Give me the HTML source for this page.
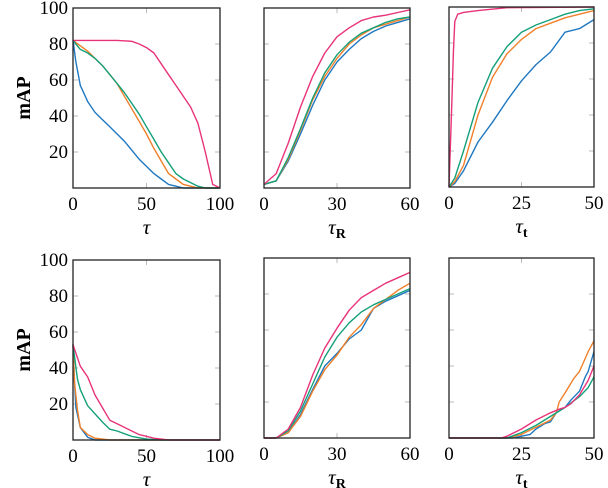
<!DOCTYPE html>
<html><head><meta charset="utf-8"><style>
html,body{margin:0;padding:0;background:#fff;width:608px;height:488px;overflow:hidden}
svg{font-family:"Liberation Serif","DejaVu Serif",serif}
</style></head><body>
<svg id="chart" width="608" height="488" viewBox="0 0 608 488"></svg>
<script>
const colors=['#1f78c1','#f0802a','#14a07a','#e8337a'];
const seriesNames=['blue','orange','green','pink'];
const p1x_blue=[0,2,5,10,15,20,25,30,35,40,45,50,55,60,65,70,75,100];
const p1y_blue=[82,70,57,48,42,38,34,30,26,21,16,12,8,5,2,1,0,0];
const p1x_orange=[0,5,10,15,20,25,30,35,40,45,50,55,60,65,70,75,80,85,100];
const p1y_orange=[82,79,76,72,68,63,58,51,44,37,30,22,15,8,5,2,1,0,0];
const p1x_green=[0,5,10,15,20,25,30,35,40,45,50,55,60,65,70,75,80,85,90,100];
const p1y_green=[82,77,75,72,68,63,58,53,47,41,34,27,20,14,8,5,3,1,0,0];
const p1x_pink=[0,10,20,30,40,45,50,55,60,70,80,85,90,95,100];
const p1y_pink=[82,82,82,82,81.5,80,78,75,69,57,45,36,20,2,0];
const p2x=[0,5,10,15,20,25,30,35,40,45,50,55,60];
const p2y_blue=[2,4,15,30,46,60,70,77,83,87,90,92,94];
const p2y_orange=[2,4,16,32,49,62,72,80,85,89,91,93,95];
const p2y_green=[2,4,17,33,50,64,74,81,86,89,92,94,95];
const p2y_pink=[2,8,25,45,62,75,84,89,93,95,96,97.5,99];
const p3x=[0,2,5,10,15,20,25,30,35,40,45,50];
const p3y_blue=[0,2,9,25,36,48,59,68,75,86,88,93];
const p3y_orange=[0,3,12,40,61,74,82,88,91,94,96,98];
const p3y_green=[0,5,20,47,66,78,86,90,93,96,98,99];
const p3x_pink=[0,1,1.5,2,3,5,10,20,50];
const p3y_pink=[0,48,75,92,96,97,98,99.6,100];
const p4x_blue=[0,1,2,5,10,15,100];const p4y_blue=[53,32,18,7,1.5,0,0];
const p4x_orange=[0,1,3,5,10,15,25,100];const p4y_orange=[53,32,17,7,3,1,0,0];
const p4x_green=[0,3,5,10,20,25,30,40,50,60,100];const p4y_green=[53,34,28,19,10,6,5,2,0.5,0,0];
const p4x_pink=[0,5,10,15,25,30,45,55,65,100];const p4y_pink=[53,41,35,25,11,9,3,1,0,0];
const p5x=[0,5,10,15,20,25,30,35,40,45,50,55,60];
const p5y_blue=[0,0,3,13,27,40,47,55,60,72,76,79,82];
const p5y_orange=[0,0,3,12,26,38,46,56,63,72,77,82,86];
const p5y_green=[0,0,4,15,30,45,56,64,70,74,77,80,83];
const p5y_pink=[0,0,5,17,35,50,61,71,78,82,86,89,92];
const p6x_blue=[0,22,25,28,30,33,35,37,40,42,45,47,48,50];const p6y_blue=[0,0,1,2,5,8,9,14,17,21,26,34,37,48];
const p6x_orange=[0,20,25,30,35,37,38,40,43,45,48,50];const p6y_orange=[0,0,2,6,10,14,20,25,33,37,48,54];
const p6x_green=[0,20,25,30,35,38,40,45,48,50];const p6y_green=[0,0,3,7,12,15,17,23,28,34];
const p6x_pink=[0,18,20,25,30,35,38,40,42,45,48,50];const p6y_pink=[0,0,1,5,10,14,16,17,19,24,32,40];
const yTicks=[20,40,60,80,100];
const panels=[
 {x0:73,x1:220,y0:8,y1:188,xmax:100,xt:[0,50,100],lab:'tau',yl:true,s:[[p1x_blue,p1y_blue],[p1x_orange,p1y_orange],[p1x_green,p1y_green],[p1x_pink,p1y_pink]]},
 {x0:264,x1:410,y0:8,y1:188,xmax:60,xt:[0,30,60],lab:'R',yl:false,s:[[p2x,p2y_blue],[p2x,p2y_orange],[p2x,p2y_green],[p2x,p2y_pink]]},
 {x0:449,x1:594,y0:7,y1:187,xmax:50,xt:[0,25,50],lab:'t',yl:false,s:[[p3x,p3y_blue],[p3x,p3y_orange],[p3x,p3y_green],[p3x_pink,p3y_pink]]},
 {x0:73,x1:220,y0:260,y1:440,xmax:100,xt:[0,50,100],lab:'tau',yl:true,s:[[p4x_blue,p4y_blue],[p4x_orange,p4y_orange],[p4x_green,p4y_green],[p4x_pink,p4y_pink]]},
 {x0:264,x1:410,y0:258,y1:438,xmax:60,xt:[0,30,60],lab:'R',yl:false,s:[[p5x,p5y_blue],[p5x,p5y_orange],[p5x,p5y_green],[p5x,p5y_pink]]},
 {x0:449,x1:594,y0:258,y1:438,xmax:50,xt:[0,25,50],lab:'t',yl:false,s:[[p6x_blue,p6y_blue],[p6x_orange,p6y_orange],[p6x_green,p6y_green],[p6x_pink,p6y_pink]]}
];
const svg=document.getElementById('chart');const NS='http://www.w3.org/2000/svg';
function mk(t,a,p){const e=document.createElementNS(NS,t);for(const k in a)e.setAttribute(k,a[k]);(p||svg).appendChild(e);return e;}
panels.forEach((P,i)=>{
 const g=mk('g',{});
 
 
 const sx=v=>P.x0+v/P.xmax*(P.x1-P.x0);
 const sy=v=>P.y1-v/100*(P.y1-P.y0);
 yTicks.forEach(t=>{const y=sy(t);
  mk('line',{x1:P.x0,x2:P.x0+5,y1:y,y2:y,stroke:'#bbb','stroke-width':1},g);
  mk('line',{x1:P.x1-5,x2:P.x1,y1:y,y2:y,stroke:'#bbb','stroke-width':1},g);
  if(P.yl){const tx=mk('text',{x:P.x0-5,y:y+6,'text-anchor':'end','font-size':19},g);tx.textContent=t;
   
   }
 });
 P.xt.forEach(t=>{const x=sx(t);
  mk('line',{x1:x,x2:x,y1:P.y1,y2:P.y1-5,stroke:'#bbb','stroke-width':1},g);
  mk('line',{x1:x,x2:x,y1:P.y0,y2:P.y0+5,stroke:'#bbb','stroke-width':1},g);
  const tx=mk('text',{x:x,y:P.y1+22,'text-anchor':'middle','font-size':19},g);tx.textContent=t;
  
  
 });
 P.s.forEach((s,k)=>{
  const d=s[0].map((x,j)=>(j?'L':'M')+sx(x).toFixed(1)+' '+sy(s[1][j]).toFixed(1)).join(' ');
  const pth=mk('path',{d:d,fill:'none',stroke:colors[k],'stroke-width':1.4,'stroke-linejoin':'round'},g);
  
  
 });
 mk('rect',{x:P.x0,y:P.y0,width:P.x1-P.x0,height:P.y1-P.y0,fill:'none',stroke:'#222','stroke-width':1.3},g);
 const cx=(P.x0+P.x1)/2, ly=P.y1+46;
 const lt=mk('text',{x:cx,y:ly,'text-anchor':'middle','font-size':21,'font-style':'italic'},g);
 
 
 lt.textContent='τ';
 if(P.lab!=='tau'){const ts=mk('tspan',{'font-size':14,'font-style':'normal','font-weight':'bold',dy:4},lt);ts.textContent=P.lab;}
 if(P.yl){const yt=mk('text',{x:0,y:0,'text-anchor':'middle','font-size':20,'font-weight':'bold',transform:`translate(30 ${(P.y0+P.y1)/2}) rotate(-90)`},g);yt.textContent='mAP';
  
  }
});
</script>
</body></html>
